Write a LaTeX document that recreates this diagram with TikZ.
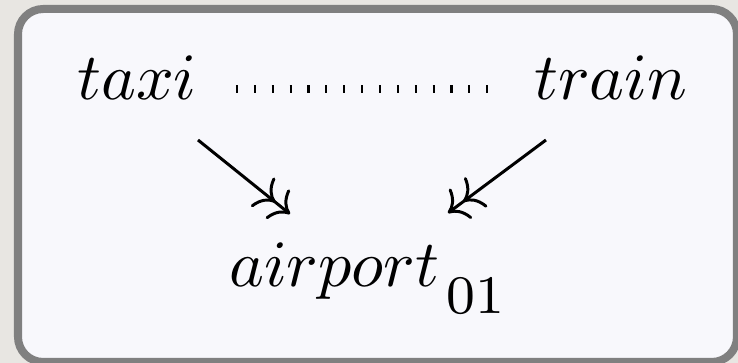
\documentclass[tikz,border=0pt]{standalone}
\usepackage{amsmath}
\usetikzlibrary{arrows.meta,positioning,calc}

\definecolor{paper}{RGB}{232,230,226}
\definecolor{framegray}{RGB}{128,128,128}
\definecolor{panel}{RGB}{248,248,252}

\begin{document}
\begin{tikzpicture}[
        x=0.15106pt, y=-0.15106pt,
        word/.style={inner sep=3pt, anchor=base},
        frame/.style={draw=framegray, line width=1.21pt, fill=panel, rounded corners=3.8pt},
        arrow/.style={-{Computer Modern Rightarrow[length=2.57pt,width=5.65pt,sep=0.3pt] Computer Modern Rightarrow[length=2.57pt,width=5.65pt]}, line width=0.45pt},
        dotline/.style={line width=1.25pt, dash pattern=on 0.32pt off 2.38pt}
    ]

    \fill[paper] (0,0) rectangle (738,363);
    \useasboundingbox (0,0) rectangle (738,363);
    \draw[frame] (18,9) rectangle (737,362);

    \node[word] (taxi) at (137,100) {$taxi$};
    \node[word] (train) at (611,100) {$train$};
    \node[word] (airport) at (366.5,287) {$airport$\kern1pt\raisebox{-4pt}{\fontsize{8.2}{10}\selectfont 01}};

    \draw[dotline] ($(taxi.base)+(99,-11)$) -- ($(train.base)+(-122,-11)$);
    \draw[arrow] ($(taxi.base)+(61,40)$) -- ($(airport.base)+(-76.5,-73)$);
    \draw[arrow] ($(train.base)+(-65,40)$) -- ($(airport.base)+(81.5,-74)$);

\end{tikzpicture}
\end{document}
